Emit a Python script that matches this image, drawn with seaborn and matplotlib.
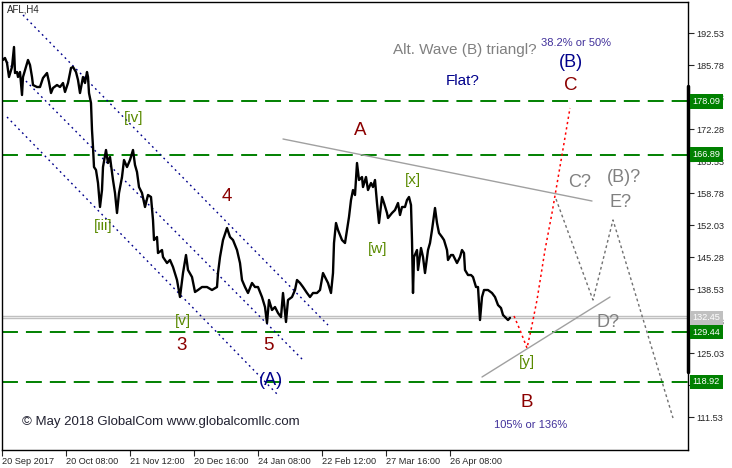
import matplotlib
matplotlib.use('Agg')
import matplotlib.pyplot as plt
import matplotlib.transforms as mtransforms
import seaborn as sns

# AFL H4 price path (bar index, price)
bars = [1, 3, 5, 7, 10, 12, 13, 15, 16, 18, 20, 21, 24, 26, 28, 30, 31, 35, 38, 41,
        45, 47, 49, 51, 55, 58, 61, 63, 66, 69, 71, 74, 76, 78, 81, 83, 85, 86, 87, 89,
        90, 91, 92, 94, 96, 98, 100, 101, 104, 106, 108, 111, 113, 115, 117, 120, 122, 125, 128, 131,
        133, 135, 137, 140, 143, 146, 149, 151, 152, 155, 156, 160, 161, 165, 168, 171, 175, 178, 181, 184,
        186, 190, 193, 196, 200, 205, 210, 215, 216, 218, 221, 225, 228, 231, 235, 238, 240, 243, 246, 250,
        253, 256, 260, 263, 265, 267, 270, 273, 276, 279, 281, 284, 286, 290, 293, 295, 298, 301, 305, 308,
        311, 315, 318, 321, 323, 326, 329, 331, 332, 334, 336, 340, 343, 345, 347, 349, 351, 353, 355, 357,
        360, 361, 364, 366, 369, 371, 373, 375, 377, 380, 382, 385, 386, 390, 393, 396, 398, 400, 403, 405,
        407, 409, 410, 411, 412, 415, 416, 419, 421, 423, 426, 428, 430, 433, 435, 437, 440, 442, 445, 446,
        449, 451, 455, 458, 460, 462, 463, 466, 469, 471, 474, 476, 478, 480, 482, 486, 490, 493, 496, 499,
        501, 504, 506, 508]
prices = [186.84, 187.26, 186.20, 183.25, 185.36, 189.58, 184.09, 184.30, 183.25, 184.30,
          179.45, 183.25, 185.36, 186.84, 185.78, 183.25, 181.56, 181.14, 181.14, 183.04,
          184.09, 182.19, 179.87, 180.93, 181.56, 181.14, 181.98, 180.09, 181.98, 185.15,
          185.36, 184.30, 182.62, 179.87, 183.25, 181.98, 184.30, 183.25, 179.87, 177.76,
          172.07, 168.48, 164.26, 163.63, 160.89, 155.83, 159.41, 164.26, 167.85, 165.11,
          166.37, 161.52, 158.78, 154.56, 158.78, 162.15, 165.74, 164.26, 165.74, 167.85,
          164.69, 163.21, 160.04, 158.78, 155.83, 158.36, 157.94, 153.08, 148.86, 149.50,
          146.12, 146.75, 145.28, 144.01, 144.65, 143.17, 140.43, 136.84, 141.90, 145.70,
          142.54, 141.06, 137.90, 138.32, 138.95, 138.95, 138.32, 138.95, 141.90, 145.28,
          148.86, 151.40, 149.50, 148.86, 146.75, 144.01, 140.43, 138.95, 137.69, 139.80,
          138.95, 138.95, 136.84, 134.73, 131.36, 136.21, 134.10, 134.73, 133.47, 132.62,
          137.69, 131.57, 136.21, 136.84, 138.32, 140.43, 139.80, 138.95, 137.69, 136.84,
          137.69, 137.69, 138.32, 141.90, 141.06, 139.80, 137.69, 141.90, 148.23, 152.45,
          150.97, 148.86, 148.23, 150.97, 153.72, 157.30, 159.41, 158.36, 165.11, 161.52,
          162.15, 160.04, 162.15, 159.41, 160.89, 160.04, 161.52, 156.67, 152.45, 157.94,
          156.67, 154.56, 153.51, 154.56, 155.19, 156.67, 154.14, 155.83, 155.83, 157.30,
          157.94, 156.25, 148.86, 137.69, 145.28, 146.75, 142.54, 147.18, 145.28, 141.90,
          146.75, 148.23, 150.97, 155.62, 152.45, 150.34, 149.50, 148.86, 146.75, 144.65,
          145.70, 145.70, 144.01, 145.28, 146.75, 146.12, 142.54, 141.48, 141.48, 141.06,
          138.95, 138.95, 131.99, 136.84, 138.32, 138.32, 137.69, 136.84, 135.15, 134.52,
          133.05, 132.41, 131.99, 132.45]

x_tick_pos = [0, 64, 128, 192, 256, 320, 384, 448]
x_tick_labels = ['20 Sep 2017', '20 Oct 08:00', '21 Nov 12:00', '20 Dec 16:00',
                 '24 Jan 08:00', '22 Feb 12:00', '27 Mar 16:00', '26 Apr 08:00']
y_ticks = [192.53, 185.78, 179.03, 172.28, 165.53, 158.78, 152.03, 145.28,
           138.53, 131.78, 125.03, 118.28, 111.53]

levels = [178.09, 166.89, 129.44, 118.92]
bid_ask = [132.45, 132.87]

# blue dotted channel lines: ((bar0, price0), (bar1, price1))
channels = [((21, 196.33), (326, 130.93)),
            ((1, 187.26), (301, 123.55)),
            ((5, 174.81), (276, 116.17))]
# grey triangle boundaries
triangle = [((281, 170.17), (590, 157.09)),
            ((480, 119.97), (608, 136.84))]
# projected paths
flat_bars = [512, 518, 525, 529, 535, 543, 550, 560, 568]
flat_prices = [132.83, 129.88, 126.08, 129.88, 136.21, 146.75, 154.56, 166.80, 176.71]
tri_bars = [554, 591, 611, 671]
tri_prices = [157.51, 136.21, 153.09, 111.32]

# wave labels: (text, bar, price, colour, size)
maroon = '#8b0000'
navy = '#00008b'
olive = '#5a8a00'
grey = '#808080'
labels = [
    ('[iv]', 132, 174.60, olive, 11), ('[iii]', 101, 151.82, olive, 11),
    ('[v]', 181, 131.78, olive, 11), ('[w]', 376, 146.97, olive, 11),
    ('[x]', 411, 161.52, olive, 11), ('[y]', 525, 123.13, olive, 11),
    ('4', 225, 157.94, maroon, 13.5), ('3', 180, 126.51, maroon, 13.5),
    ('5', 266, 126.51, maroon, 13.5), ('A', 358, 172.07, maroon, 13.5),
    ('B', 525, 114.69, maroon, 13.5), ('C', 569, 181.56, maroon, 13.5),
    ('(A)', 269, 119.33, navy, 13), ('(B)', 569, 186.41, navy, 13),
    ('Flat?', 461, 182.40, navy, 11),
    ('Alt. Wave (B) triangl?', 463, 188.94, grey, 11),
    ('38.2% or 50%', 574, 190.42, '#40309a', 8),
    ('105% or 136%', 529, 109.84, '#40309a', 8),
    ('C?', 578, 161.10, grey, 13), ('(B)?', 622, 162.15, grey, 13),
    ('E?', 619, 156.88, grey, 13), ('D?', 606, 131.57, grey, 13),
]

sns.set_style('white')
plt.rcParams['font.family'] = ['Liberation Sans', 'DejaVu Sans']

fig = plt.figure(figsize=(7.32, 4.68), dpi=100)
ax = fig.add_axes([2 / 732, 18 / 468, 686 / 732, 448 / 468])

# support / resistance levels and bid/ask
for lv in levels:
    ax.axhline(lv, color='#008000', lw=1.4, dashes=(8.2, 4.1), zorder=1)
for lv in bid_ask:
    ax.axhline(lv, color='#c0c0c0', lw=1, zorder=1)

for (x0, y0), (x1, y1) in channels:
    ax.plot([x0, x1], [y0, y1], color=navy, lw=1, dashes=(1.3, 2.6), zorder=2)
for (x0, y0), (x1, y1) in triangle:
    ax.plot([x0, x1], [y0, y1], color='#a0a0a0', lw=1, zorder=2)

sns.lineplot(x=bars, y=prices, ax=ax, color='black', lw=1.7, estimator=None, zorder=3)

ax.plot(flat_bars, flat_prices, color='red', lw=1.1, dashes=(1.5, 2), zorder=3)
ax.plot(tri_bars, tri_prices, color='#707070', lw=1, dashes=(2, 2), zorder=3)

for txt, bx, py, col, fs in labels:
    ax.text(bx, py, txt, color=col, fontsize=fs, ha='center', va='center', zorder=4)

ax.text(0.007, 0.983, 'AFL,H4', transform=ax.transAxes, fontsize=7, ha='left', va='center')
ax.text(0.029, 0.062, '\u00a9 May 2018 GlobalCom www.globalcomllc.com', transform=ax.transAxes,
        fontsize=9.5, color='#202030', ha='left', va='center')

ax.set_xlim(0, 686)
ax.set_ylim(104.57, 199.07)

ax.yaxis.tick_right()
ax.set_yticks(y_ticks)
ax.set_yticklabels([f'{v:.2f}' for v in y_ticks])
ax.set_xticks(x_tick_pos)
ax.set_xticklabels(x_tick_labels, ha='left')
ax.tick_params(axis='y', direction='out', length=4, width=0.8, pad=2, labelsize=6.6, right=True)
ax.tick_params(axis='x', direction='out', length=4, width=0.8, pad=1, labelsize=6.6, bottom=True)
ax.set_xlabel('')
ax.set_ylabel('')
for sp in ax.spines.values():
    sp.set_color('black')
    sp.set_linewidth(1)

# price tags on the right scale
trans = mtransforms.blended_transform_factory(ax.transAxes, ax.transData)
for lv in levels:
    ax.text(1.007, lv, f'{lv:.2f}', transform=trans, color='white', fontsize=6.6,
            ha='left', va='center', zorder=6, clip_on=False,
            bbox=dict(boxstyle='square,pad=0.3', fc='#008000', ec='none'))
ax.text(1.007, bid_ask[0], f'{bid_ask[0]:.2f}', transform=trans, color='white', fontsize=6.6,
        ha='left', va='center', zorder=6, clip_on=False,
        bbox=dict(boxstyle='square,pad=0.3', fc='#c0c0c0', ec='none'))
ax.axvline(686, ymin=0.174, ymax=0.8125, color='black', lw=2.5, clip_on=False, zorder=5)

fig.savefig('out.png', dpi=100)
